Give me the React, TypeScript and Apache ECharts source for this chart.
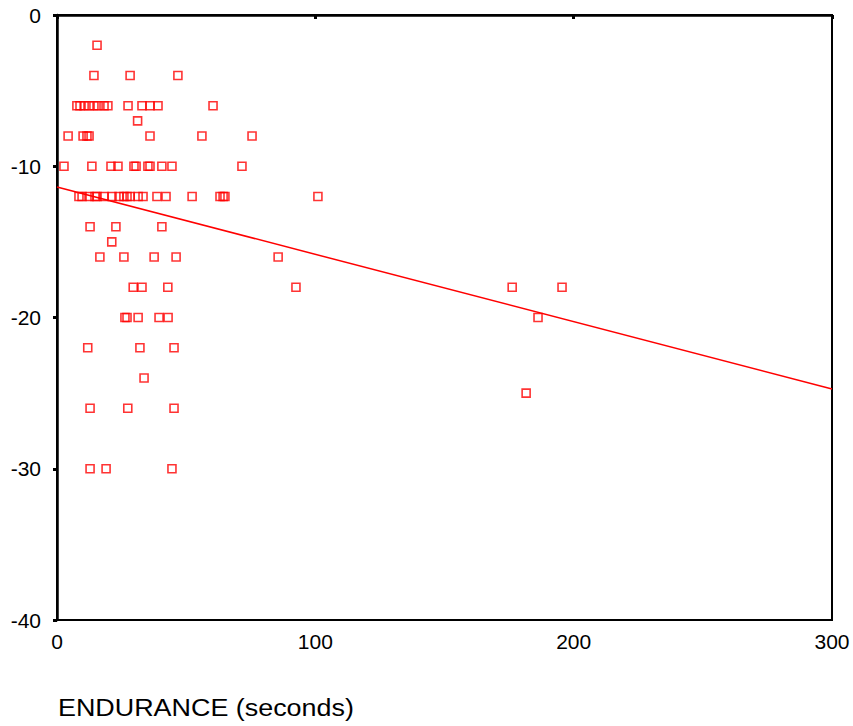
import React, { useEffect, useRef } from "react";
import * as echarts from "echarts";

// Y values (rows) and the endurance (x) values of the points on each row
const rowY: number[] = [-2, -4, -6, -7, -8, -10, -12, -14, -15, -16, -18, -20, -22, -24, -25, -26, -30];
const rowEndurance: number[][] = [
  [15.5],
  [14.3, 28.3, 46.8],
  [7.7, 8.9, 10.5, 12.4, 14.3, 15.9, 18.2, 19.7, 27.5, 32.9, 36.0, 39.1, 60.4],
  [31.2],
  [4.3, 10.1, 11.6, 12.4, 36.0, 56.1, 75.5],
  [2.7, 13.5, 20.9, 23.6, 29.8, 30.6, 35.2, 36.0, 40.6, 44.5, 71.6],
  [8.5, 9.7, 12.4, 14.7, 15.5, 18.2, 21.3, 24.0, 25.9, 27.1, 28.3, 31.4, 33.3, 38.7, 42.2, 52.3, 63.1, 64.3, 65.0, 101.0],
  [12.8, 22.8, 40.6],
  [21.2],
  [16.6, 25.9, 37.6, 46.1, 85.6],
  [29.5, 32.9, 42.9, 92.5, 176.2, 195.5],
  [26.3, 27.1, 31.4, 39.5, 43.0, 186.2],
  [11.9, 32.1, 45.3],
  [33.7],
  [181.6],
  [12.8, 27.4, 45.3],
  [12.8, 19.0, 44.5],
];

// Fitted line endpoints
const fitX: number[] = [0, 300];
const fitY: number[] = [-11.37, -24.73];

const xTicks = [0, 100, 200, 300];
const yTicks = [0, -10, -20, -30, -40];

export default function App() {
  const ref = useRef<HTMLDivElement>(null);
  useEffect(() => {
    if (!ref.current) return;
    const chart = echarts.init(ref.current, null, { renderer: "svg" });
    const points: number[][] = [];
    rowY.forEach((y, i) => rowEndurance[i].forEach((x) => points.push([x, y])));
    const font = "'Liberation Sans', Arial, sans-serif";
    chart.setOption({
      animation: false,
      backgroundColor: "#fff",
      grid: {
        left: 57,
        top: 15,
        width: 775,
        height: 605,
        show: true,
        borderColor: "#000",
        borderWidth: 2,
        backgroundColor: "transparent",
      },
      xAxis: {
        type: "value",
        min: xTicks[0],
        max: xTicks[xTicks.length - 1],
        interval: 100,
        splitLine: { show: false },
        axisLine: { show: true, lineStyle: { color: "#000", width: 2.5 } },
        axisTick: { show: true, length: 4, lineStyle: { color: "#000", width: 3 } },
        axisLabel: { color: "#000", fontSize: 21, fontFamily: font, margin: 11 },
      },
      yAxis: {
        type: "value",
        min: yTicks[yTicks.length - 1],
        max: yTicks[0],
        interval: 10,
        splitLine: { show: false },
        axisLine: { show: true, lineStyle: { color: "#000", width: 2.5 } },
        axisTick: { show: true, length: 4, lineStyle: { color: "#000", width: 3 } },
        axisLabel: { color: "#000", fontSize: 21, fontFamily: font, margin: 16 },
      },
      graphic: [
        {
          type: "text",
          x: 58,
          y: 696,
          scaleX: 1.17,
          style: {
            text: "ENDURANCE (seconds)",
            fill: "#000",
            fontSize: 23,
            fontFamily: font,
            align: "left",
            verticalAlign: "top",
          },
        },
      ],
      series: [
        {
          type: "line",
          data: fitX.map((x, i) => [x, fitY[i]]),
          showSymbol: false,
          symbol: "none",
          lineStyle: { color: "#ff0000", width: 1.5 },
          z: 2,
        },
        {
          type: "scatter",
          data: points,
          symbol: "rect",
          symbolSize: 8,
          itemStyle: { color: "rgba(255,255,255,0)", borderColor: "#ff0000", borderWidth: 1.6 },
          z: 3,
        },
      ],
    });
    return () => chart.dispose();
  }, []);
  return <div ref={ref} style={{ position: "fixed", left: 0, top: 0, width: 853, height: 726 }} />;
}
